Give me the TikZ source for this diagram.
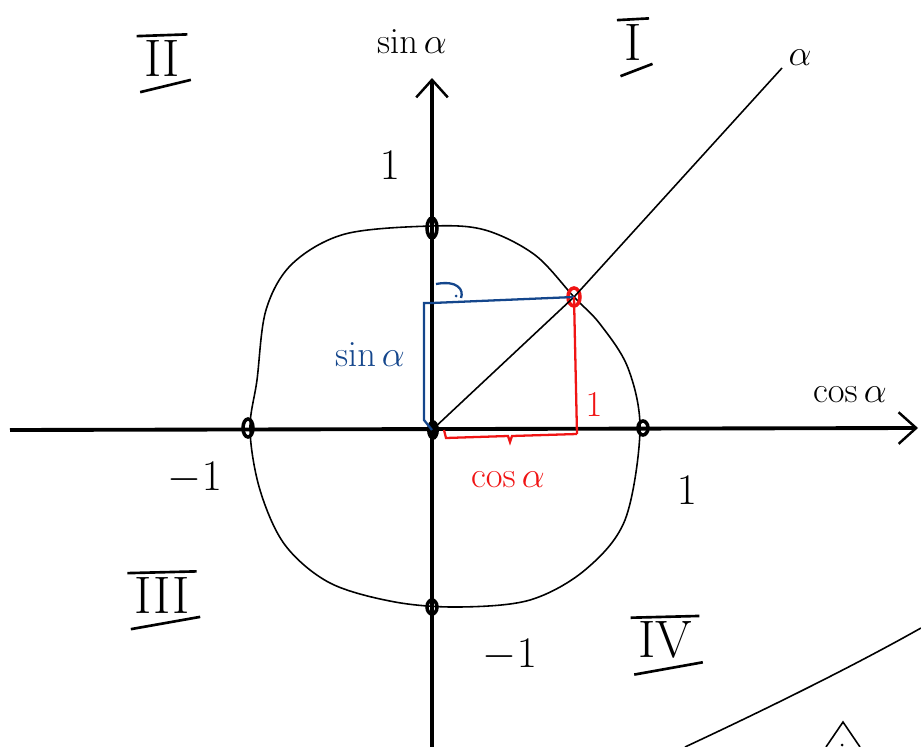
\documentclass[tikz,border=0pt]{standalone}
\usepackage{amsmath,amssymb}
\usepackage{xcolor}
\usepackage{tikz}
\usetikzlibrary{arrows.meta, positioning, calc}
\definecolor{penblue}{RGB}{20,70,140}
\definecolor{penred}{RGB}{240,20,20}

\begin{document}
\begin{tikzpicture}[
    x=0.02cm, y=-0.02cm,
    axis/.style={line width=2.2pt, -{Straight Barb[length=10pt, width=18pt, line width=1.4pt]}},
    pen/.style={line width=0.9pt},
    dot/.style={line width=2pt},
    lbl/.style={font=\fontsize{21}{24}\selectfont, inner sep=1pt},
    num/.style={font=\fontsize{26}{30}\selectfont, inner sep=1pt},
    quad/.style={font=\fontsize{30}{34}\selectfont, inner sep=1pt}
]
    \useasboundingbox (0,0) rectangle (921,747);

    % axes
    \coordinate (o) at (432,430);
    \coordinate (xl) at (10,430);
    \coordinate (xr) at (918,428);
    \coordinate (yb) at (432,747);
    \coordinate (yt) at (432,78);
    \draw [axis] (xl) -- (xr);
    \draw [axis] (yb) -- (yt);

    % unit circle (hand drawn)
    \draw [pen] plot [smooth cycle, tension=0.55] coordinates {
        (432,226) (345,234) (292,264) (266,310) (257,380) (250,430)
        (260,490) (285,545) (330,583) (395,602) (460,607) (530,600)
        (585,570) (625,520) (640,430) (628,368) (600,324) (574,297)
        (535,255) (485,230)};

    % marks on the circle
    \draw [dot] (432,228) ellipse (5 and 10);
    \draw [dot] (248,428) ellipse (5 and 9);
    \draw [dot] (643,428) ellipse (5 and 7);
    \draw [dot] (432,607) ellipse (5 and 7);
    \fill (433,430) ellipse (6 and 10);
    \coordinate (p) at (574,297);
    \draw [dot, penred] (p) ellipse (6 and 9);

    % radius and the ray of the angle
    \coordinate (ray) at (782,68);
    \draw [pen] (o) -- (p) -- (ray);
    \node [lbl] (alpha) at (800,58) {$\alpha$};

    % sine (blue)
    \coordinate (sy) at (432,303);
    \draw [pen, penblue, line width=1.3pt] (sy) -- (p);
    \draw [pen, penblue, line width=1.3pt] (sy) -| (424,420) -- (o);
    \draw [pen, penblue, line width=1.3pt] (436,284) .. controls (458,280) and (464,290) .. (461,298);
    \fill [penblue] (456,296) circle (1.5);
    \node [lbl, text=penblue] (sinlbl) at (370,355) {$\sin\alpha$};

    % cosine (red)
    \coordinate (cx) at (577,434);
    \draw [pen, penred, line width=1.3pt] (p) -- (cx);
    \draw [pen, penred, line width=1.3pt] (cx) -- (512,436) -- (510,442) -- (508,436) -- (446,438) -- (444,430);
    \node [num, text=penred, font=\fontsize{20}{22}\selectfont] (rone) at (594,405) {$1$};
    \node [lbl, text=penred] (coslbl) at (508,480) {$\cos\alpha$};

    % axis labels
    \node [lbl] (ylbl) at (412,42) {$\sin\alpha$};
    \node [lbl] (xlbl) at (850,395) {$\cos\alpha$};
    \node [num] (one-y) at (390,165) {$1$};
    \node [num] (one-x) at (687,490) {$1$};
    \node [num] (mone-x) at (195,478) {$-1$};
    \node [num] (mone-y) at (510,655) {$-1$};

    % quadrants
    \node [quad] (q1) at (633,42) {I};
    \node [quad] (q2) at (162,58) {II};
    \node [quad] (q3) at (162,595) {III};
    \node [quad] (q4) at (665,640) {IV};
    \foreach \q in {q1,q2,q3,q4} {
        \draw [pen, line width=1.5pt] ([xshift=-3pt, yshift=1pt]\q.north west) -- ([xshift=3pt, yshift=2pt]\q.north east);
        \draw [pen, line width=1.5pt] ([xshift=-1pt, yshift=-8pt]\q.south west) -- ([xshift=5pt, yshift=-1pt]\q.south east);
    }

    % stray strokes in the corner
    \coordinate (s1) at (685,747);
    \coordinate (s2) at (921,628);
    \draw [pen] (s1) .. controls (760,712) and (850,668) .. (s2);
    \draw [pen] (826,747) -- (843,722) -- (860,747);
    \fill (842,745) circle (1.5);
\end{tikzpicture}
\end{document}
